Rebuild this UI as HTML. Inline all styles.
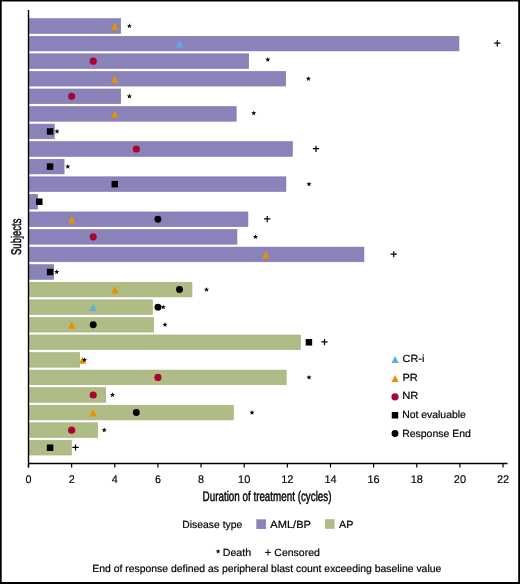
<!DOCTYPE html>
<html><head><meta charset="utf-8"><style>
html,body{margin:0;padding:0;background:#fff;}
#f{position:relative;width:520px;height:584px;background:#fff;overflow:hidden;}
svg{position:absolute;left:0;top:0;will-change:transform;}
text{font-family:"Liberation Sans",sans-serif;fill:#000;text-rendering:geometricPrecision;}
.tk{font-size:11px;stroke:#000;stroke-width:0.15px;}
.ax{font-size:14px;stroke:#000;stroke-width:0.45px;}
.lg{font-size:10.4px;stroke:#000;stroke-width:0.2px;}
</style></head><body><div id="f">
<svg width="520" height="584" viewBox="0 0 520 584">
<rect x="28.8" y="18.70" width="91.90" height="14.65" fill="#8A83BA" stroke="#7D75B0" stroke-width="0.6"/>
<rect x="28.8" y="36.27" width="430.15" height="14.65" fill="#8A83BA" stroke="#7D75B0" stroke-width="0.6"/>
<rect x="28.8" y="53.84" width="219.90" height="14.65" fill="#8A83BA" stroke="#7D75B0" stroke-width="0.6"/>
<rect x="28.8" y="71.41" width="256.90" height="14.65" fill="#8A83BA" stroke="#7D75B0" stroke-width="0.6"/>
<rect x="28.8" y="88.98" width="91.90" height="14.65" fill="#8A83BA" stroke="#7D75B0" stroke-width="0.6"/>
<rect x="28.8" y="106.55" width="207.40" height="14.65" fill="#8A83BA" stroke="#7D75B0" stroke-width="0.6"/>
<rect x="28.8" y="124.12" width="25.50" height="14.65" fill="#8A83BA" stroke="#7D75B0" stroke-width="0.6"/>
<rect x="28.8" y="141.69" width="263.65" height="14.65" fill="#8A83BA" stroke="#7D75B0" stroke-width="0.6"/>
<rect x="28.8" y="159.26" width="35.30" height="14.65" fill="#8A83BA" stroke="#7D75B0" stroke-width="0.6"/>
<rect x="28.8" y="176.83" width="257.15" height="14.65" fill="#8A83BA" stroke="#7D75B0" stroke-width="0.6"/>
<rect x="28.8" y="194.40" width="8.90" height="14.65" fill="#8A83BA" stroke="#7D75B0" stroke-width="0.6"/>
<rect x="28.8" y="211.97" width="219.15" height="14.65" fill="#8A83BA" stroke="#7D75B0" stroke-width="0.6"/>
<rect x="28.8" y="229.54" width="208.15" height="14.65" fill="#8A83BA" stroke="#7D75B0" stroke-width="0.6"/>
<rect x="28.8" y="247.11" width="335.15" height="14.65" fill="#8A83BA" stroke="#7D75B0" stroke-width="0.6"/>
<rect x="28.8" y="264.68" width="24.90" height="14.65" fill="#8A83BA" stroke="#7D75B0" stroke-width="0.6"/>
<rect x="28.8" y="282.25" width="163.20" height="14.65" fill="#AFBC86" stroke="#A3B17A" stroke-width="0.6"/>
<rect x="28.8" y="299.82" width="123.65" height="14.65" fill="#AFBC86" stroke="#A3B17A" stroke-width="0.6"/>
<rect x="28.8" y="317.39" width="124.90" height="14.65" fill="#AFBC86" stroke="#A3B17A" stroke-width="0.6"/>
<rect x="28.8" y="334.96" width="271.65" height="14.65" fill="#AFBC86" stroke="#A3B17A" stroke-width="0.6"/>
<rect x="28.8" y="352.53" width="50.90" height="14.65" fill="#AFBC86" stroke="#A3B17A" stroke-width="0.6"/>
<rect x="28.8" y="370.10" width="257.40" height="14.65" fill="#AFBC86" stroke="#A3B17A" stroke-width="0.6"/>
<rect x="28.8" y="387.67" width="76.90" height="14.65" fill="#AFBC86" stroke="#A3B17A" stroke-width="0.6"/>
<rect x="28.8" y="405.24" width="204.65" height="14.65" fill="#AFBC86" stroke="#A3B17A" stroke-width="0.6"/>
<rect x="28.8" y="422.81" width="68.90" height="14.65" fill="#AFBC86" stroke="#A3B17A" stroke-width="0.6"/>
<rect x="28.8" y="440.38" width="42.65" height="14.65" fill="#AFBC86" stroke="#A3B17A" stroke-width="0.6"/>
<polygon points="114.78,22.57 118.38,29.97 111.18,29.97" fill="#E69200"/>
<polygon points="129.40,23.32 130.05,25.14 131.97,25.19 130.45,26.36 130.99,28.21 129.40,27.12 127.81,28.21 128.35,26.36 126.83,25.19 128.75,25.14" fill="#000"/>
<polygon points="179.49,40.14 183.09,47.55 175.89,47.55" fill="#5CAEE2"/>
<path d="M494.15 43.20H500.45M497.30 40.30V46.49" stroke="#000" stroke-width="1.2" fill="none"/>
<circle cx="93.21" cy="61.16" r="3.6" fill="#A80530"/>
<polygon points="267.80,56.86 268.45,58.68 270.37,58.73 268.85,59.90 269.39,61.75 267.80,60.66 266.21,61.75 266.75,59.90 265.23,58.73 267.15,58.68" fill="#000"/>
<polygon points="114.78,75.28 118.38,82.69 111.18,82.69" fill="#E69200"/>
<polygon points="308.40,76.03 309.05,77.85 310.97,77.90 309.45,79.07 309.99,80.92 308.40,79.83 306.81,80.92 307.35,79.07 305.83,77.90 307.75,77.85" fill="#000"/>
<circle cx="71.64" cy="96.31" r="3.6" fill="#A80530"/>
<polygon points="129.40,93.61 130.05,95.42 131.97,95.47 130.45,96.64 130.99,98.49 129.40,97.41 127.81,98.49 128.35,96.64 126.83,95.47 128.75,95.42" fill="#000"/>
<polygon points="114.78,110.42 118.38,117.83 111.18,117.83" fill="#E69200"/>
<polygon points="253.75,110.38 254.40,112.19 256.32,112.24 254.80,113.41 255.34,115.26 253.75,114.17 252.16,115.26 252.70,113.41 251.18,112.24 253.10,112.19" fill="#000"/>
<rect x="46.82" y="128.19" width="6.5" height="6.5" fill="#000"/>
<polygon points="57.00,128.75 57.65,130.56 59.57,130.61 58.05,131.78 58.59,133.63 57.00,132.54 55.41,133.63 55.95,131.78 54.43,130.61 56.35,130.56" fill="#000"/>
<circle cx="136.35" cy="149.02" r="3.6" fill="#A80530"/>
<path d="M312.85 148.62H319.15M316.00 145.72V151.92" stroke="#000" stroke-width="1.2" fill="none"/>
<rect x="46.82" y="163.34" width="6.5" height="6.5" fill="#000"/>
<polygon points="67.80,163.89 68.45,165.70 70.37,165.75 68.85,166.92 69.39,168.77 67.80,167.69 66.21,168.77 66.75,166.92 65.23,165.75 67.15,165.70" fill="#000"/>
<rect x="111.53" y="180.91" width="6.5" height="6.5" fill="#000"/>
<polygon points="309.00,181.46 309.65,183.27 311.57,183.32 310.05,184.49 310.59,186.34 309.00,185.25 307.41,186.34 307.95,184.49 306.43,183.32 308.35,183.27" fill="#000"/>
<rect x="36.03" y="198.47" width="6.5" height="6.5" fill="#000"/>
<polygon points="71.64,215.85 75.24,223.25 68.04,223.25" fill="#E69200"/>
<circle cx="157.92" cy="219.30" r="3.45" fill="#000"/>
<path d="M264.10 218.90H270.40M267.25 216.00V222.20" stroke="#000" stroke-width="1.2" fill="none"/>
<circle cx="93.21" cy="236.87" r="3.6" fill="#A80530"/>
<polygon points="255.50,234.17 256.15,235.98 258.07,236.03 256.55,237.20 257.09,239.05 255.50,237.97 253.91,239.05 254.45,237.20 252.93,236.03 254.85,235.98" fill="#000"/>
<polygon points="265.77,250.99 269.37,258.38 262.17,258.38" fill="#E69200"/>
<path d="M390.60 254.03H396.90M393.75 251.13V257.33" stroke="#000" stroke-width="1.2" fill="none"/>
<rect x="46.82" y="268.75" width="6.5" height="6.5" fill="#000"/>
<polygon points="56.70,269.31 57.35,271.12 59.27,271.17 57.75,272.34 58.29,274.19 56.70,273.11 55.11,274.19 55.65,272.34 54.13,271.17 56.05,271.12" fill="#000"/>
<polygon points="114.78,286.12 118.38,293.52 111.18,293.52" fill="#E69200"/>
<circle cx="179.49" cy="289.57" r="3.45" fill="#000"/>
<polygon points="206.50,286.88 207.15,288.69 209.07,288.74 207.55,289.91 208.09,291.76 206.50,290.68 204.91,291.76 205.45,289.91 203.93,288.74 205.85,288.69" fill="#000"/>
<polygon points="93.21,303.69 96.81,311.09 89.61,311.09" fill="#5CAEE2"/>
<circle cx="157.92" cy="307.14" r="3.45" fill="#000"/>
<polygon points="163.25,304.44 163.90,306.26 165.82,306.31 164.30,307.48 164.84,309.33 163.25,308.25 161.66,309.33 162.20,307.48 160.68,306.31 162.60,306.26" fill="#000"/>
<polygon points="71.64,321.26 75.24,328.66 68.04,328.66" fill="#E69200"/>
<circle cx="93.21" cy="324.71" r="3.45" fill="#000"/>
<polygon points="165.00,322.01 165.65,323.83 167.57,323.88 166.05,325.05 166.59,326.90 165.00,325.81 163.41,326.90 163.95,325.05 162.43,323.88 164.35,323.83" fill="#000"/>
<rect x="305.66" y="339.03" width="6.5" height="6.5" fill="#000"/>
<path d="M321.35 341.88H327.65M324.50 338.98V345.18" stroke="#000" stroke-width="1.2" fill="none"/>
<polygon points="82.42,356.40 86.02,363.80 78.83,363.80" fill="#E69200"/>
<polygon points="84.50,357.15 85.15,358.97 87.07,359.02 85.55,360.19 86.09,362.04 84.50,360.95 82.91,362.04 83.45,360.19 81.93,359.02 83.85,358.97" fill="#000"/>
<circle cx="157.92" cy="377.42" r="3.6" fill="#A80530"/>
<polygon points="309.00,374.72 309.65,376.54 311.57,376.59 310.05,377.76 310.59,379.61 309.00,378.52 307.41,379.61 307.95,377.76 306.43,376.59 308.35,376.54" fill="#000"/>
<circle cx="93.21" cy="395.00" r="3.6" fill="#A80530"/>
<polygon points="112.50,392.30 113.15,394.11 115.07,394.16 113.55,395.33 114.09,397.18 112.50,396.10 110.91,397.18 111.45,395.33 109.93,394.16 111.85,394.11" fill="#000"/>
<polygon points="93.21,409.12 96.81,416.51 89.61,416.51" fill="#E69200"/>
<circle cx="136.35" cy="412.56" r="3.45" fill="#000"/>
<polygon points="252.00,409.87 252.65,411.68 254.57,411.73 253.05,412.90 253.59,414.75 252.00,413.67 250.41,414.75 250.95,412.90 249.43,411.73 251.35,411.68" fill="#000"/>
<circle cx="71.64" cy="430.13" r="3.6" fill="#A80530"/>
<polygon points="104.25,427.44 104.90,429.25 106.82,429.30 105.30,430.47 105.84,432.32 104.25,431.24 102.66,432.32 103.20,430.47 101.68,429.30 103.60,429.25" fill="#000"/>
<rect x="46.82" y="444.45" width="6.5" height="6.5" fill="#000"/>
<path d="M72.35 447.31H78.65M75.50 444.40V450.60" stroke="#000" stroke-width="1.2" fill="none"/>
<path d="M28.5 10V467.5M28.5 463.5H507.5" stroke="#000" stroke-width="1.4" fill="none"/>
<path d="M28.50 463.5V467.4M71.64 463.5V467.4M114.78 463.5V467.4M157.92 463.5V467.4M201.06 463.5V467.4M244.20 463.5V467.4M287.34 463.5V467.4M330.48 463.5V467.4M373.62 463.5V467.4M416.76 463.5V467.4M459.90 463.5V467.4M503.04 463.5V467.4" stroke="#000" stroke-width="1.2" fill="none"/>
<text x="25.50" y="482.6" class="tk" textLength="6.0" lengthAdjust="spacingAndGlyphs">0</text>
<text x="68.64" y="482.6" class="tk" textLength="6.0" lengthAdjust="spacingAndGlyphs">2</text>
<text x="111.78" y="482.6" class="tk" textLength="6.0" lengthAdjust="spacingAndGlyphs">4</text>
<text x="154.92" y="482.6" class="tk" textLength="6.0" lengthAdjust="spacingAndGlyphs">6</text>
<text x="198.06" y="482.6" class="tk" textLength="6.0" lengthAdjust="spacingAndGlyphs">8</text>
<text x="238.10" y="482.6" class="tk" textLength="12.2" lengthAdjust="spacingAndGlyphs">10</text>
<text x="281.24" y="482.6" class="tk" textLength="12.2" lengthAdjust="spacingAndGlyphs">12</text>
<text x="324.38" y="482.6" class="tk" textLength="12.2" lengthAdjust="spacingAndGlyphs">14</text>
<text x="367.52" y="482.6" class="tk" textLength="12.2" lengthAdjust="spacingAndGlyphs">16</text>
<text x="410.66" y="482.6" class="tk" textLength="12.2" lengthAdjust="spacingAndGlyphs">18</text>
<text x="453.80" y="482.6" class="tk" textLength="12.2" lengthAdjust="spacingAndGlyphs">20</text>
<text x="496.94" y="482.6" class="tk" textLength="12.2" lengthAdjust="spacingAndGlyphs">22</text>
<text id="t_sub" transform="translate(20.5,254.4) rotate(-90)" x="-0.56" y="0" class="ax" textLength="36.37" lengthAdjust="spacingAndGlyphs">Subjects</text>
<polygon points="395.10,355.95 398.80,362.95 391.40,362.95" fill="#5CAEE2"/>
<polygon points="395.10,374.90 398.80,381.90 391.40,381.90" fill="#E69200"/>
<circle cx="395.00" cy="396.80" r="3.6" fill="#A80530"/>
<rect x="391.75" y="412.00" width="6.5" height="6.5" fill="#000"/>
<circle cx="395.00" cy="433.50" r="3.45" fill="#000"/>
<text id="t_cri" x="402.62" y="362.2" class="lg" textLength="21.83" lengthAdjust="spacingAndGlyphs">CR-i</text>
<text id="t_pr" x="402.45" y="380.95" class="lg" textLength="15.41" lengthAdjust="spacingAndGlyphs">PR</text>
<text id="t_nr" x="402.27" y="399.4" class="lg" textLength="16.20" lengthAdjust="spacingAndGlyphs">NR</text>
<text id="t_ne" x="402.20" y="418.45" class="lg" textLength="63.66" lengthAdjust="spacingAndGlyphs">Not evaluable</text>
<text id="t_re" x="402.20" y="437.2" class="lg" textLength="68.67" lengthAdjust="spacingAndGlyphs">Response End</text>
<text id="t_dt" x="182.32" y="527.7" class="lg" textLength="60.00" lengthAdjust="spacingAndGlyphs">Disease type</text>
<text id="t_aml" x="270.29" y="527.6" class="lg" textLength="40.66" lengthAdjust="spacingAndGlyphs">AML/BP</text>
<text id="t_ap" x="339.01" y="527.8" class="lg" textLength="14.33" lengthAdjust="spacingAndGlyphs">AP</text>
<text id="t_de" x="222.78" y="555.5" class="lg" textLength="28.41" lengthAdjust="spacingAndGlyphs">Death</text>
<text id="t_ce" x="274.34" y="555.6" class="lg" textLength="45.59" lengthAdjust="spacingAndGlyphs">Censored</text>
<text id="t_end" x="92.31" y="571.7" class="lg" textLength="348.98" lengthAdjust="spacingAndGlyphs">End of response defined as peripheral blast count exceeding baseline value</text>
<text id="t_dur" x="202.62" y="500.5" class="ax" textLength="128.86" lengthAdjust="spacingAndGlyphs">Duration of treatment (cycles)</text>
<rect x="256.3" y="519.3" width="9.6" height="9.7" fill="#8A83BA"/>
<rect x="325.0" y="519.2" width="9.6" height="9.6" fill="#AFBC86"/>
<polygon points="218.10,548.80 218.69,550.59 220.57,550.60 219.05,551.71 219.63,553.50 218.10,552.40 216.57,553.50 217.15,551.71 215.63,550.60 217.51,550.59" fill="#000"/>
<path d="M265 552.4H271M268 549.3V555.5" stroke="#000" stroke-width="0.95" fill="none"/>
<path d="M0 0H520V584H0Z M1.7 1.4V581.9H518.2V1.4Z" fill="#000" fill-rule="evenodd"/>
</svg></div></body></html>
